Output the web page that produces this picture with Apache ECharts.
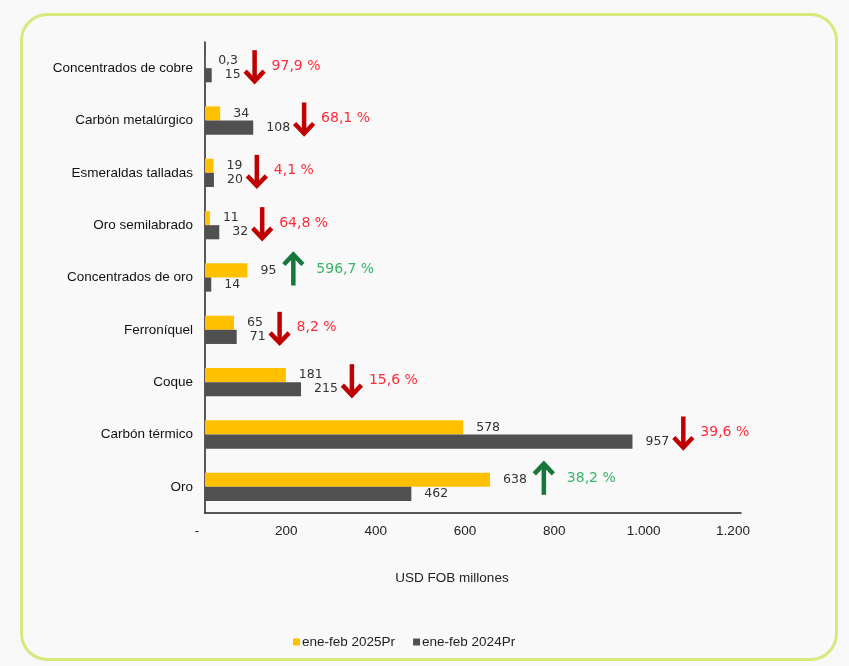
<!DOCTYPE html>
<html>
<head>
<meta charset="utf-8">
<script src="https://cdn.jsdelivr.net/npm/echarts@6/dist/echarts.min.js"></script>
<style>
html,body{margin:0;padding:0;background:#f8f8f8;}
#chart{width:849px;height:666px;}
</style>
</head>
<body>
<div id="chart"></div>
<script>
const categories = ['Concentrados de cobre','Carbón metalúrgico','Esmeraldas talladas','Oro semilabrado','Concentrados de oro','Ferroníquel','Coque','Carbón térmico','Oro'];
const v2025 = [0.3, 34, 19, 11, 95, 65, 181, 578, 638];
const v2024 = [15, 108, 20, 32, 14, 71, 215, 957, 462];
const pctChange = ['97,9 %','68,1 %','4,1 %','64,8 %','596,7 %','8,2 %','15,6 %','39,6 %','38,2 %'];
const seriesNames = ['ene-feb 2025Pr','ene-feb 2024Pr'];
const xTicks = [0, 200, 400, 600, 800, 1000, 1200];

const LABEL_FONT = '12.5px "DejaVu Sans"';
const LABEL_DIST = 13;
const fmt = v => String(v).replace('.', ',');
const fmtAxis = v => v === 0 ? '-' : String(v).replace(/\B(?=(\d{3})+(?!\d))/g, '.');
const ctx = document.createElement('canvas').getContext('2d');
function textW(s){ ctx.font = LABEL_FONT; return ctx.measureText(s).width; }

const chart = echarts.init(document.getElementById('chart'), null, {renderer:'canvas'});

const valueLabel = {
  show: true, position: 'right', distance: LABEL_DIST,
  fontFamily: 'DejaVu Sans', fontSize: 12.5, color: '#333',
  formatter: p => fmt(p.value)
};

function renderArrow(params, api){
  const i = api.value(0);
  const up = v2025[i] > v2024[i];
  const cy = api.coord([0, i])[1];
  const e1 = api.coord([v2025[i], i])[0] + LABEL_DIST + textW(fmt(v2025[i]));
  const e2 = api.coord([v2024[i], i])[0] + LABEL_DIST + textW(fmt(v2024[i]));
  const cx = Math.max(e1, e2) + (up ? 17 : 14);
  const ay = cy + (up ? -8 : -2);
  const h = 32, hw = 9.5;
  const top = ay - h/2, bot = ay + h/2;
  const color = up ? '#16773a' : '#c00000';
  let shaft, head;
  if (up) {
    shaft = [[cx, bot],[cx, top+2]];
    head = [[cx-hw, top+11],[cx, top+1],[cx+hw, top+11]];
  } else {
    shaft = [[cx, top],[cx, bot-2]];
    head = [[cx-hw, bot-11],[cx, bot-1],[cx+hw, bot-11]];
  }
  return {
    type: 'group',
    children: [
      {type:'polyline', shape:{points:shaft}, style:{stroke:color, lineWidth:4.5, fill:null, lineCap:'butt'}},
      {type:'polyline', shape:{points:head}, style:{stroke:color, lineWidth:4.5, fill:null, lineJoin:'miter', lineCap:'butt'}},
      {type:'text', x: cx + (up ? 23 : 17), y: ay, style:{
        text: pctChange[i], fill: up ? '#38b468' : '#ff2b3a',
        font: '14px "DejaVu Sans"', align:'left', verticalAlign:'middle'}}
    ]
  };
}

const option = {
  backgroundColor: '#f8f8f8',
  animation: false,
  graphic: [{
    type: 'rect', z: -10, silent: true,
    shape: {x: 21.5, y: 14.5, width: 815, height: 645, r: 26},
    style: {fill: '#f9f9f9', stroke: '#d9e77c', lineWidth: 3}
  }],
  legend: {
    left: 288, top: 630,
    itemWidth: 7, itemHeight: 7, itemGap: 18,
    icon: 'rect',
    textStyle: {fontFamily: 'Liberation Sans', fontSize: 13.5, color: '#222', padding: [0,0,0,-3]},
    data: seriesNames
  },
  grid: {left: 205, right: 108, top: 42, bottom: 153, containLabel: false},
  xAxis: {
    type: 'value', min: 0, max: 1200, interval: 200,
    name: 'USD FOB millones', nameLocation: 'middle', nameGap: 58,
    nameTextStyle: {fontFamily: 'Liberation Sans', fontSize: 13.5, color: '#222', padding: [0, 42, 0, 0]},
    axisLine: {show: true, lineStyle: {color: '#222', width: 1.5}},
    axisTick: {show: false},
    splitLine: {show: false},
    axisLabel: {
      fontFamily: 'Liberation Sans', fontSize: 13.5, color: '#222', margin: 11,
      padding: [0, 16, 0, 0],
      formatter: v => fmtAxis(v)
    }
  },
  yAxis: {
    type: 'category', inverse: true, data: categories,
    axisLine: {show: true, lineStyle: {color: '#222', width: 1.5}},
    axisTick: {show: false},
    axisLabel: {fontFamily: 'Liberation Sans', fontSize: 13.5, color: '#111', margin: 12}
  },
  series: [
    {
      name: seriesNames[0], type: 'bar', data: v2025,
      itemStyle: {color: '#ffc000'},
      barGap: '0%', barCategoryGap: '46%',
      label: valueLabel
    },
    {
      name: seriesNames[1], type: 'bar', data: v2024,
      itemStyle: {color: '#505050'},
      barGap: '0%', barCategoryGap: '46%',
      label: valueLabel
    },
    {
      type: 'custom', renderItem: renderArrow,
      data: categories.map((c, i) => [i]),
      encode: {y: 0},
      silent: true, z: 5
    }
  ]
};
chart.setOption(option);
</script>
</body>
</html>
